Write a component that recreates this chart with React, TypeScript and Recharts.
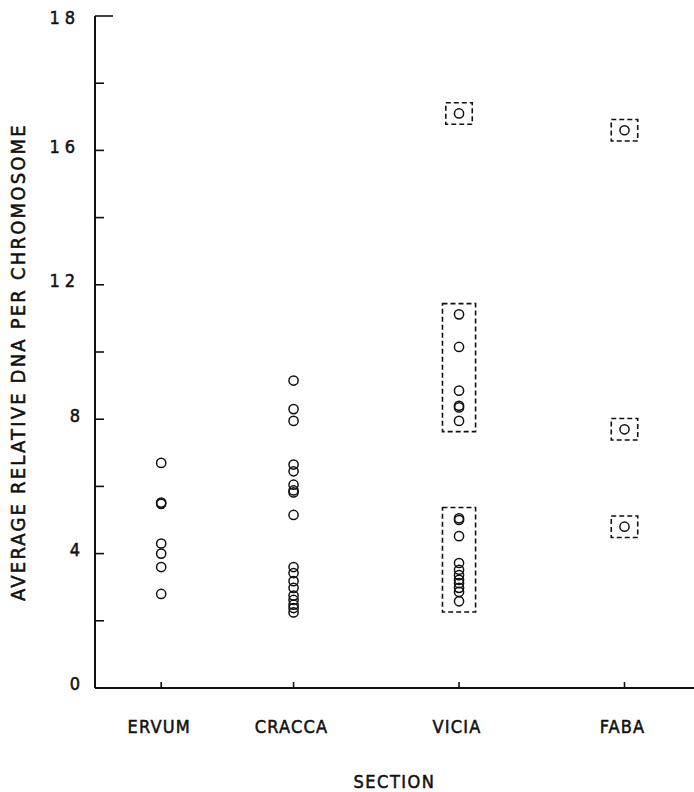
import React from 'react';
import { ScatterChart, Scatter, XAxis, YAxis, ReferenceArea } from 'recharts';

// ---- data ----
const sections = ['ERVUM', 'CRACCA', 'VICIA', 'FABA'];
const sectionX = [0.4, 1.2, 2.2, 3.2];

const ervumValues = [6.7, 5.48, 5.52, 4.3, 4.0, 3.6, 2.8];
const craccaValues = [9.15, 8.3, 7.95, 6.65, 6.45, 6.05, 5.88, 5.82, 5.15, 3.6, 3.42, 3.18, 2.98, 2.75, 2.62, 2.48, 2.38, 2.25];
const viciaGroups = [
  [17.1],
  [11.12, 10.15, 8.85, 8.4, 8.35, 7.95],
  [5.05, 5.0, 4.52, 3.72, 3.52, 3.36, 3.22, 3.12, 2.98, 2.86, 2.58],
];
const fabaGroups = [[16.6], [7.7], [4.8]];

const yTicks = [0, 2, 4, 6, 8, 10, 12, 14, 16, 18, 20];
const yTickLabels = ['0', '', '4', '', '8', '', '12', '', '16', '', '18'];

const yTitle = 'AVERAGE RELATIVE DNA PER CHROMOSOME';
const xTitle = 'SECTION';

// ---- derived ----
const toPoints = (sx: number, vals: number[]) => vals.map((v) => ({ x: sx, y: v }));
const ervumData = toPoints(sectionX[0], ervumValues);
const craccaData = toPoints(sectionX[1], craccaValues);
const viciaData = toPoints(sectionX[2], viciaGroups.flat());
const fabaData = toPoints(sectionX[3], fabaGroups.flat());

const boxes = [
  ...viciaGroups.map((g) => ({ sx: sectionX[2], g })),
  ...fabaGroups.map((g) => ({ sx: sectionX[3], g })),
].map(({ sx, g }) => {
  const half = g.length > 1 ? 0.1 : 0.08;
  return {
    x1: sx - half,
    x2: sx + half,
    y1: Math.min(...g) - 0.32,
    y2: Math.max(...g) + 0.32,
  };
});

const FONT = "'DejaVu Sans Condensed', 'Liberation Sans Narrow', 'DejaVu Sans', sans-serif";
const INK = '#111';
const textInk = { fill: INK, stroke: INK, strokeWidth: 0.5 };

const Ring = (props: any) => {
  const { cx, cy } = props;
  if (cx == null || cy == null) return null;
  return <circle cx={cx} cy={cy} r={4.6} fill="none" stroke={INK} strokeWidth={1.5} />;
};

const YTick = (props: any) => {
  const { x, y, index } = props;
  const label = yTickLabels[index] ?? '';
  const isTop = index === yTicks.length - 1;
  return (
    <g>
      <line x1={x} y1={y} x2={x + (isTop ? 18 : 9)} y2={y} stroke={INK} strokeWidth={1.6} />
      {label ? (
        <text
          x={x - 15}
          y={isTop ? y + 2 : y - 4}
          dy="0.36em"
          textAnchor="end"
          fontFamily={FONT}
          fontSize={18}
          letterSpacing={label.length > 1 ? 5 : 0}
          {...textInk}
        >
          {label}
        </text>
      ) : null}
    </g>
  );
};

const XTick = (props: any) => {
  const { x, y, index } = props;
  return (
    <g>
      <line x1={x} y1={y} x2={x} y2={y - 6} stroke={INK} strokeWidth={1.6} />
      <text
        x={x - 2}
        y={y + 45}
        textAnchor="middle"
        fontFamily={FONT}
        fontSize={18}
        letterSpacing={1.2}
        {...textInk}
      >
        {sections[index]}
      </text>
    </g>
  );
};

const YTitle = (props: any) => {
  const vb = props.viewBox || { x: 0, y: 0, width: 0, height: 0 };
  const cx = 18;
  const cy = vb.y + vb.height / 2 + 10;
  return (
    <text
      x={cx}
      y={cy}
      transform={`rotate(-90, ${cx}, ${cy})`}
      textAnchor="middle"
      dominantBaseline="central"
      fontFamily={FONT}
      fontSize={20}
      letterSpacing={2.2}
      {...textInk}
    >
      {yTitle}
    </text>
  );
};

const XTitle = (props: any) => {
  const vb = props.viewBox || { x: 0, y: 0, width: 0, height: 0 };
  return (
    <text
      x={vb.x + vb.width / 2}
      y={vb.y + 100}
      textAnchor="middle"
      fontFamily={FONT}
      fontSize={18}
      letterSpacing={1.5}
      {...textInk}
    >
      {xTitle}
    </text>
  );
};

export default function App() {
  return (
    <div style={{ position: 'absolute', left: 0, top: 0, background: '#fff' }}>
      <ScatterChart width={694} height={792} margin={{ top: 16, right: 0, bottom: 0, left: 0 }}>
        <XAxis
          type="number"
          dataKey="x"
          domain={[0, 3.62]}
          ticks={sectionX}
          interval={0}
          allowDataOverflow
          height={104}
          tickSize={0}
          tickMargin={0}
          tickLine={false}
          axisLine={{ stroke: INK, strokeWidth: 2 }}
          tick={<XTick />}
          label={{ content: <XTitle /> }}
        />
        <YAxis
          type="number"
          dataKey="y"
          domain={[0, 20]}
          ticks={yTicks}
          interval={0}
          allowDataOverflow
          width={95}
          tickSize={0}
          tickMargin={0}
          tickLine={false}
          axisLine={{ stroke: INK, strokeWidth: 2 }}
          tick={<YTick />}
          label={{ content: <YTitle /> }}
        />
        {boxes.map((b, i) => (
          <ReferenceArea
            key={i}
            x1={b.x1}
            x2={b.x2}
            y1={b.y1}
            y2={b.y2}
            fill="none"
            fillOpacity={0}
            stroke={INK}
            strokeWidth={1.6}
            strokeDasharray="5 3"
            ifOverflow="visible"
          />
        ))}
        <Scatter data={ervumData} shape={<Ring />} isAnimationActive={false} />
        <Scatter data={craccaData} shape={<Ring />} isAnimationActive={false} />
        <Scatter data={viciaData} shape={<Ring />} isAnimationActive={false} />
        <Scatter data={fabaData} shape={<Ring />} isAnimationActive={false} />
      </ScatterChart>
    </div>
  );
}
